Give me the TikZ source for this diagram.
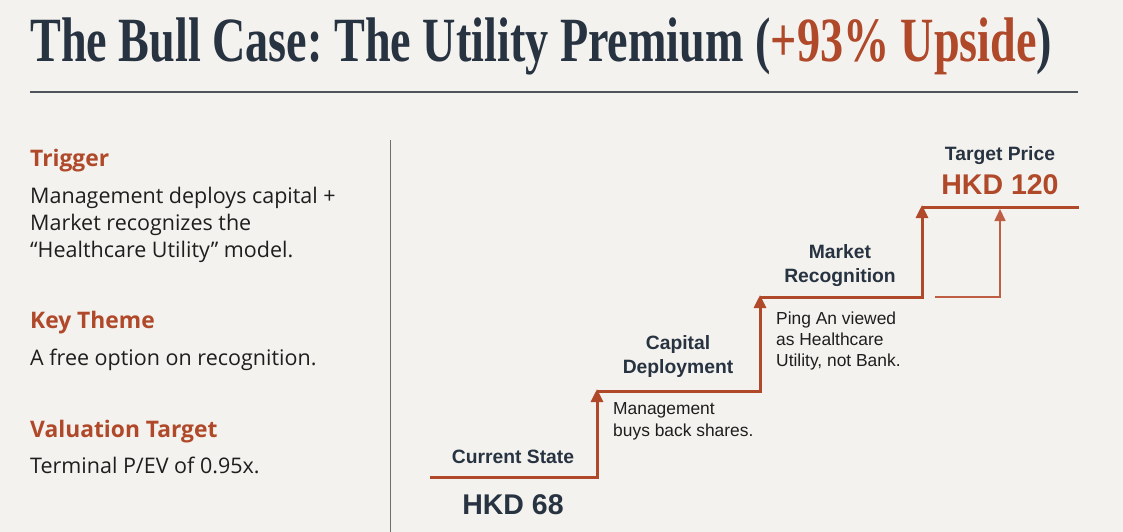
\documentclass[tikz,border=0pt]{standalone}
\usepackage{fontspec}
\setmainfont{Liberation Serif}
\newfontfamily\bodyfont{Open Sans}
\newfontfamily\lblfont{Liberation Sans}
\usetikzlibrary{arrows.meta}
\definecolor{bg}{HTML}{F3F2EE}
\definecolor{navy}{HTML}{283341}
\definecolor{accent}{HTML}{B0482A}
\definecolor{thinacc}{HTML}{BE5F45}
\definecolor{ink}{HTML}{1E1E1E}
\definecolor{rulegray}{HTML}{4E545B}
\definecolor{divgray}{HTML}{6E6E6E}
\frenchspacing
\begin{document}
\begin{tikzpicture}[x=1pt,y=-1pt,
  head/.style={anchor=base west, inner sep=0, font=\bodyfont\bfseries\fontsize{22.8}{22.8}\selectfont, text=accent},
  body/.style={anchor=base west, inner sep=0, font=\bodyfont\fontsize{21.5}{26}\selectfont, text=ink},
  lbl/.style={anchor=base, inner sep=0, font=\lblfont\bfseries\fontsize{19.3}{24}\selectfont, text=navy},
  note/.style={anchor=base west, inner sep=0, font=\lblfont\fontsize{17.4}{21}\selectfont, text=ink},
  price/.style={anchor=base, inner sep=0, font=\lblfont\bfseries\fontsize{28.5}{28.5}\selectfont},
  stair/.style={draw=accent, line width=3pt, line join=miter},
  stairtip/.style={-{Triangle[width=12pt,length=13pt]}},
  thinline/.style={draw=thinacc, line width=1.6pt},
  thintip/.style={-{Triangle[width=11pt,length=12pt]}}
]
\fill[bg] (0,0) rectangle (1123,532);
\useasboundingbox (0,0) rectangle (1123,532);

% title
\node[anchor=base west, inner sep=0, text=navy, font=\bfseries\fontsize{63}{63}\selectfont] (title) at (30,62)
  {\scalebox{0.733}[1]{The Bull Case: The Utility Premium (\textcolor{accent}{+93\% Upside})}};
\coordinate (ruleL) at (30,92);
\coordinate (ruleR) at (1078,92);
\draw[rulegray, line width=1.2pt] (ruleL) -- (ruleR);

% divider
\coordinate (divT) at (390,140);
\coordinate (divB) at (390,532);
\draw[divgray, line width=1pt] (divT) -- (divB);

% left column
\node[head] (h1) at (30,166) {Trigger};
\node[body] (b1a) at (30,203) {Management deploys capital +};
\node[body] (b1b) at (30,230) {Market recognizes the};
\node[body] (b1c) at (30,257) {“Healthcare Utility” model.};
\node[head] (h2) at (30,328) {Key Theme};
\node[body] (b2) at (30,365) {A free option on recognition.};
\node[head] (h3) at (30,437) {Valuation Target};
\node[body] (b3) at (30,473) {Terminal P/EV of 0.95x.};

% staircase coordinates
\coordinate (s0) at (430,477);
\coordinate (c1) at (597,477);
\coordinate (t1) at (597,389);
\coordinate (s1) at (597,391);
\coordinate (c2) at (760,391);
\coordinate (t2) at (760,295);
\coordinate (s2) at (760,297);
\coordinate (c3) at (922,297);
\coordinate (t3) at (922,205);
\coordinate (s3) at (922,207);
\coordinate (e3) at (1079,207);
\coordinate (u0) at (935,297);
\coordinate (u1) at (1000,297);
\coordinate (u2) at (1000,209);

\draw[stair, stairtip] (s0) -- (c1) -- (t1);
\draw[stair, stairtip] (s1) -- (c2) -- (t2);
\draw[stair, stairtip] (s2) -- (c3) -- (t3);
\draw[stair] (s3) -- (e3);
\draw[thinline, thintip] (u0) -- (u1) -- (u2);

% chart labels
\node[lbl] (cs) at (513,463) {Current State};
\node[price, text=navy] (p68) at (513,514) {HKD 68};
\node[note] (mg1) at (613,414) {Management};
\node[note] (mg2) at (613,436) {buys back shares.};
\node[lbl] (cd1) at (678,349) {Capital};
\node[lbl] (cd2) at (678,373) {Deployment};
\node[note] (pa1) at (776,324) {Ping An viewed};
\node[note] (pa2) at (776,345) {as Healthcare};
\node[note] (pa3) at (776,366) {Utility, not Bank.};
\node[lbl] (mr1) at (840,258) {Market};
\node[lbl] (mr2) at (840,282) {Recognition};
\node[lbl] (tp) at (1000,160) {Target Price};
\node[price, text=accent] (p120) at (1000,194) {HKD 120};
\end{tikzpicture}
\end{document}
